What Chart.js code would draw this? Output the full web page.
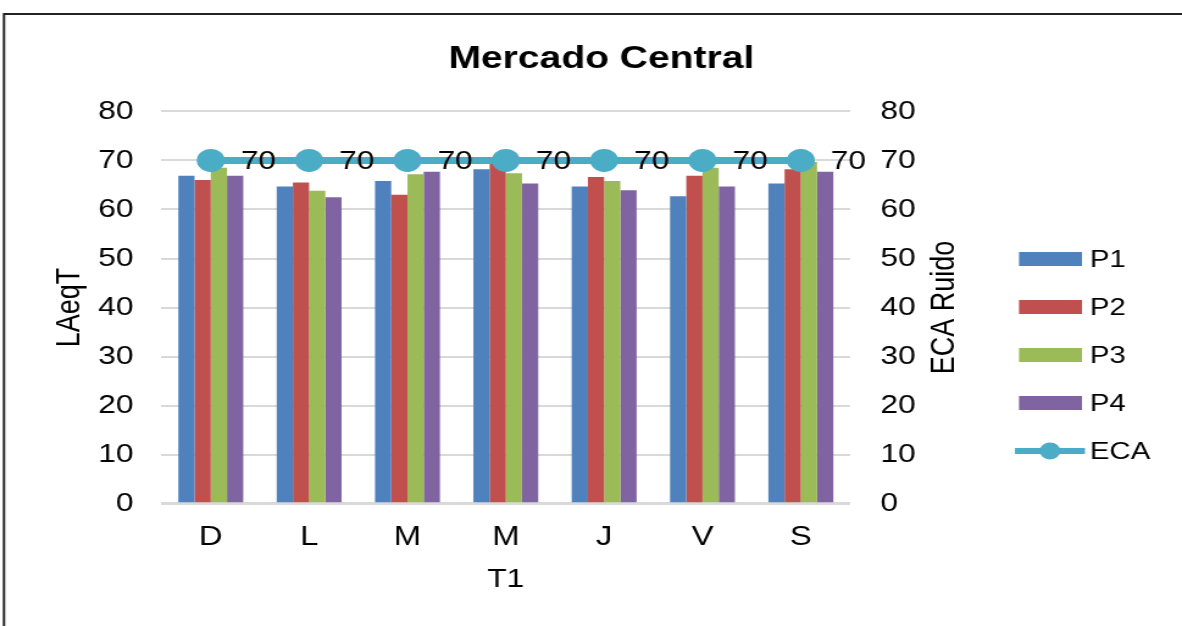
<!DOCTYPE html>
<html>
<head>
<meta charset="utf-8">
<title>Mercado Central</title>
<script src="https://cdn.jsdelivr.net/npm/chart.js@4/dist/chart.umd.min.js"></script>
<style>
  body { margin: 0; background: #fff; overflow: hidden; }
  /* la figura original esta estirada a lo ancho, se dibuja angosta y se estira */
  #box { position: relative; width: 969px; height: 626px; transform: scaleX(1.2198); transform-origin: 0 0; }
</style>
</head>
<body>
<div id="box"><canvas id="graph"></canvas></div>
<script>
// dias de la semana
const dias = ["D", "L", "M", "M", "J", "V", "S"];
const p1 = [66.9, 64.7, 65.8, 68.2, 64.7, 62.7, 65.3];
const p2 = [66.0, 65.5, 63.0, 69.3, 66.6, 66.9, 68.2];
const p3 = [68.5, 63.8, 67.2, 67.4, 65.8, 68.5, 69.7];
const p4 = [66.9, 62.5, 67.7, 65.3, 63.9, 64.7, 67.7];
const eca = [70, 70, 70, 70, 70, 70, 70];
const ticksY = [0, 10, 20, 30, 40, 50, 60, 70, 80];

const FONT = "'Liberation Sans', Arial, sans-serif";
const SX = 1182 / 969; // estiramiento horizontal

// marco, etiquetas "70", titulo derecho y leyenda
const extras = {
  id: "extras",
  beforeDraw(chart) {
    const ctx = chart.ctx;
    ctx.save();
    ctx.strokeStyle = "#222";
    ctx.lineWidth = 2;
    ctx.beginPath();
    ctx.moveTo(4 / SX, 626);
    ctx.lineTo(4 / SX, 14);
    ctx.lineTo(969, 14);
    ctx.stroke();
    ctx.restore();
  },
  afterDatasetsDraw(chart) {
    const ctx = chart.ctx;
    const idx = chart.data.datasets.findIndex(d => d.type == "line");
    const meta = chart.getDatasetMeta(idx);
    ctx.save();
    ctx.font = "26px " + FONT;
    ctx.fillStyle = "#000";
    ctx.textBaseline = "middle";
    ctx.textAlign = "left";
    meta.data.forEach((pt, i) => {
      ctx.fillText(String(chart.data.datasets[idx].data[i]), pt.x + 30 / SX, pt.y + 1);
    });
    ctx.restore();
  },
  afterDraw(chart) {
    const ctx = chart.ctx;
    const area = chart.chartArea;
    ctx.save();
    // titulo eje secundario
    ctx.translate(945 / SX, (area.top + area.bottom) / 2);
    ctx.rotate(-Math.PI / 2);
    ctx.font = "27px " + FONT;
    ctx.fillStyle = "#000";
    ctx.textAlign = "center";
    ctx.textBaseline = "middle";
    ctx.fillText("ECA Ruido", 0, 0);
    ctx.restore();

    // leyenda
    ctx.save();
    ctx.font = "24px " + FONT;
    ctx.textBaseline = "middle";
    ctx.textAlign = "left";
    chart.data.datasets.forEach((ds, i) => {
      const y = 259 + i * 48;
      if (ds.type == "line") {
        ctx.strokeStyle = ds.borderColor;
        ctx.lineWidth = 6;
        ctx.beginPath();
        ctx.moveTo(1015 / SX, y);
        ctx.lineTo(1085 / SX, y);
        ctx.stroke();
        ctx.fillStyle = ds.borderColor;
        ctx.beginPath();
        ctx.arc(1050 / SX, y, 8.5, 0, Math.PI * 2);
        ctx.fill();
      } else {
        ctx.fillStyle = ds.backgroundColor;
        ctx.fillRect(1019 / SX, y - 7, 63 / SX, 14);
      }
      ctx.fillStyle = "#000";
      ctx.fillText(ds.label, 1090 / SX, y + 1);
    });
    ctx.restore();
  }
};

const graph = document.getElementById("graph");
const graphChart = new Chart(graph, {
  type: "bar",
  data: {
    labels: dias,
    datasets: [
      { label: "P1", data: p1, backgroundColor: "#4f81bd", yAxisID: "y", order: 1 },
      { label: "P2", data: p2, backgroundColor: "#c0504d", yAxisID: "y", order: 1 },
      { label: "P3", data: p3, backgroundColor: "#9bbb59", yAxisID: "y", order: 1 },
      { label: "P4", data: p4, backgroundColor: "#8064a2", yAxisID: "y", order: 1 },
      { type: "line", label: "ECA", data: eca, yAxisID: "y1", borderColor: "#4bacc6", backgroundColor: "#4bacc6",
        borderWidth: 7, pointRadius: 8, pointHoverRadius: 8, pointBackgroundColor: "#4bacc6", pointBorderColor: "#4bacc6", order: 0 }
    ]
  },
  options: {
    responsive: true,
    maintainAspectRatio: false,
    animation: false,
    categoryPercentage: 0.66,
    barPercentage: 1.0,
    layout: { padding: { left: 17, right: 0, top: 0, bottom: 0 } },
    plugins: {
      legend: { display: false },
      tooltip: { enabled: false },
      title: {
        display: true,
        text: "Mercado Central",
        color: "#000",
        font: { family: FONT, size: 32, weight: "bold" },
        padding: { top: 40, bottom: 33 }
      }
    },
    scales: {
      x: {
        grid: { display: false, drawTicks: false },
        border: { display: false },
        ticks: { color: "#000", font: { family: FONT, size: 27 }, padding: 18 },
        title: { display: true, text: "T1", color: "#000", font: { family: FONT, size: 26 }, padding: { top: 0, bottom: 31 } },
        afterFit(scale) { scale.height = 122.3; }
      },
      y: {
        position: "left",
        min: 0, max: 80,
        afterBuildTicks(scale) { scale.ticks = ticksY.map(v => ({ value: v })); },
        grid: {
          drawTicks: false,
          color: "#d9d9d9",
          lineWidth: ctx => (ctx.tick && ctx.tick.value == 0 ? 3 : 2)
        },
        border: { display: false },
        ticks: { color: "#000", font: { family: FONT, size: 26 }, padding: 23 },
        title: { display: true, text: "LAeqT", color: "#000", font: { family: FONT, size: 27 }, padding: { top: 24, bottom: 0 } },
        afterFit(scale) { scale.width = 161.6 / SX - 17; }
      },
      y1: {
        position: "right",
        min: 0, max: 80,
        afterBuildTicks(scale) { scale.ticks = ticksY.map(v => ({ value: v })); },
        grid: { display: false, drawTicks: false },
        border: { display: false },
        ticks: { color: "#000", font: { family: FONT, size: 26 }, padding: 25 },
        afterFit(scale) { scale.width = 969 - 850 / SX; }
      }
    }
  },
  plugins: [extras]
});
</script>
</body>
</html>
